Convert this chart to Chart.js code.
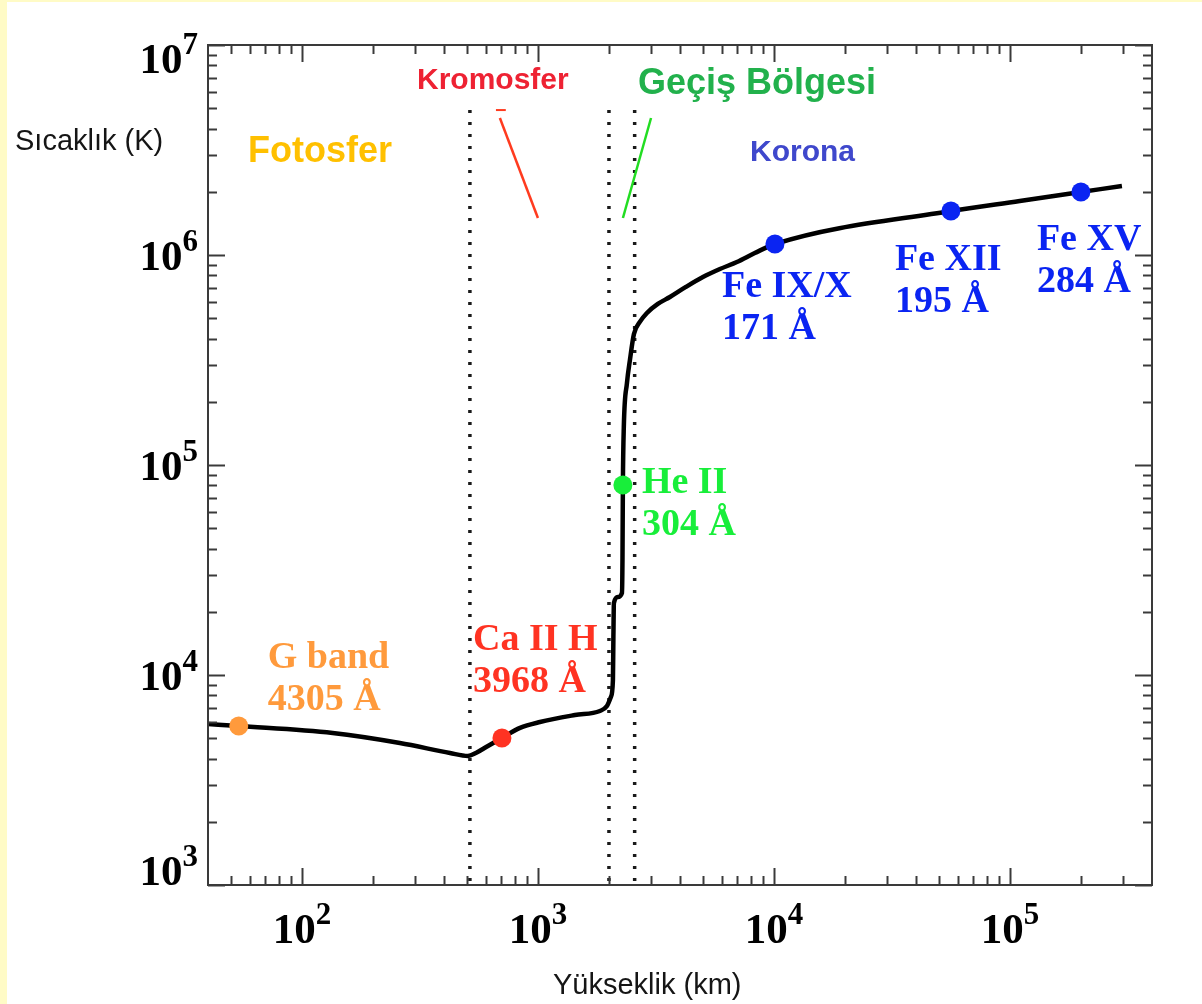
<!DOCTYPE html>
<html lang="tr">
<head>
<meta charset="UTF-8">
<title>Güneş atmosferi sıcaklık profili</title>
<script src="https://cdn.jsdelivr.net/npm/chart.js"></script>
<style>
  html, body { margin: 0; padding: 0; background: #fff; }
  canvas { display: block; }
</style>
</head>
<body>
<canvas id="tempChart" width="1202" height="1004"></canvas>
<script>
// temperature profile (height in km, temperature in K)
const heightKm = [40, 54, 135, 260, 424, 505, 546, 614, 704, 840, 1020, 1435, 1831, 1961, 2038, 2079, 2088, 2099,
  2183, 2270, 2282, 2291, 2312, 2384, 2454, 2552, 2704, 2897, 3222, 3625, 4236, 5003, 5904, 6970, 8298,
  10100, 56230, 110100, 199900, 298300];
const tempK = [5845, 5716, 5294, 4745, 4253, 4115, 4253, 4592, 5012, 5600, 5973, 6450, 6740, 7110, 7860, 9460, 14680, 22030,
  23500, 24550, 35280, 80320, 151700, 245700, 316200, 420500, 479900, 529500, 584600, 631000, 704700, 785500, 857800, 926300, 1022000,
  1128000, 1620000, 1807000, 1995000, 2132000];

// observed spectral lines
const lineNames = ['G band', 'Ca II H', 'He II', 'Fe IX/X', 'Fe XII', 'Fe XV'];
const lineWaves = ['4305 Å', '3968 Å', '304 Å', '171 Å', '195 Å', '284 Å'];
const lineHeightKm = [54, 704, 2291, 10100, 56230, 199900];
const lineTempK = [5716, 5012, 80320, 1128000, 1620000, 1995000];

// layer boundaries (dotted verticals)
const boundaryKm = [515, 2000, 2570];
const boundaryTopK = 4.9e6;

// short pointer strokes under the region names
const kromPointerKm = [690, 1000];
const kromPointerK = [4.49e6, 1.5e6];
const kromDashKm = [664, 731];
const kromDashK = [4.9e6, 4.9e6];
const gecisPointerKm = [3015, 2292];
const gecisPointerK = [4.49e6, 1.5e6];

const regionNames = ['Fotosfer', 'Kromosfer', 'Geçiş Bölgesi', 'Korona'];

// axis ticks
const xMajor = [1e2, 1e3, 1e4, 1e5];
const yMajor = [1e3, 1e4, 1e5, 1e6, 1e7];

const lineColors = ['#ff9a3c', '#ff3322', '#18ee3a', '#0a24f2', '#0a24f2', '#0a24f2'];
const regionStyle = [
  { color: '#ffc000', font: 'bold 36px "Liberation Sans", Arial, sans-serif', x: 248, y: 162 },
  { color: '#ee2233', font: 'bold 30px "Liberation Sans", Arial, sans-serif', x: 417, y: 89 },
  { color: '#22b14c', font: 'bold 36px "Liberation Sans", Arial, sans-serif', x: 638, y: 94 },
  { color: '#3f48cc', font: 'bold 30px "Liberation Sans", Arial, sans-serif', x: 750, y: 161 }
];
// label offsets from each marker (px): left edge, first baseline
const labelOffsets = [[29, -58], [-29, -88], [19, 8], [-53, 53], [-56, 59], [-44, 58]];

const pts = (xs, ys) => xs.map((v, i) => ({ x: v, y: ys[i] }));

const datasets = [];
lineNames.forEach((name, i) => {
  datasets.push({
    type: 'scatter',
    label: name,
    data: [{ x: lineHeightKm[i], y: lineTempK[i] }],
    pointRadius: 9.5,
    pointBackgroundColor: lineColors[i],
    pointBorderWidth: 0
  });
});
datasets.push({
  label: 'Sıcaklık',
  data: pts(heightKm, tempK),
  borderColor: '#000',
  borderWidth: 4.5,
  pointRadius: 0,
  cubicInterpolationMode: 'monotone',
  borderJoinStyle: 'round'
});
datasets.push({ data: pts(kromPointerKm, kromPointerK), borderColor: '#ff3b1f', borderWidth: 2.5, pointRadius: 0 });
datasets.push({ data: pts(kromDashKm, kromDashK), borderColor: '#ff3b1f', borderWidth: 2, pointRadius: 0 });
datasets.push({ data: pts(gecisPointerKm, gecisPointerK), borderColor: '#22dd22', borderWidth: 2.5, pointRadius: 0 });
boundaryKm.forEach(b => {
  datasets.push({
    data: [{ x: b, y: boundaryTopK }, { x: b, y: 1e3 }],
    borderColor: '#1a1a1a',
    borderWidth: 3.5,
    borderDash: [3, 9],
    pointRadius: 0
  });
});

const SERIF = '"Liberation Serif", "Times New Roman", serif';

function drawPower(c, exp, xPos, baseY, align) {
  c.font = 'bold 43px ' + SERIF;
  const wBase = c.measureText('10').width;
  c.font = 'bold 31px ' + SERIF;
  const wExp = c.measureText(String(exp)).width;
  let left = align === 'right' ? xPos - wBase - wExp : xPos - (wBase + wExp) / 2;
  c.textAlign = 'left';
  c.textBaseline = 'alphabetic';
  c.font = 'bold 43px ' + SERIF;
  c.fillText('10', left, baseY);
  c.font = 'bold 31px ' + SERIF;
  c.fillText(String(exp), left + wBase, baseY - 19);
}

const frame = {
  id: 'frame',
  beforeDraw(chart) {
    const c = chart.ctx;
    c.save();
    c.fillStyle = '#fff';
    c.fillRect(0, 0, chart.width, chart.height);
    c.fillStyle = '#fffbc6';
    c.fillRect(0, 0, 7, chart.height);
    c.fillRect(0, 0, chart.width, 2);
    c.restore();
  },
  afterDraw(chart) {
    const { ctx: c, chartArea: a, scales: { x, y } } = chart;
    c.save();
    c.strokeStyle = '#3a3a3a';
    c.lineWidth = 2;
    c.strokeRect(a.left, a.top, a.right - a.left, a.bottom - a.top);

    const seg = (x1, y1, x2, y2) => { c.beginPath(); c.moveTo(x1, y1); c.lineTo(x2, y2); c.stroke(); };
    // x ticks (bottom and top, pointing inward)
    for (let e = 1; e <= 5; e++) {
      for (let m = 1; m <= 9; m++) {
        const v = m * Math.pow(10, e);
        if (v <= x.min || v >= x.max) continue;
        const px = Math.round(x.getPixelForValue(v)) + 0.5;
        const len = m === 1 ? 17 : 9;
        seg(px, a.bottom, px, a.bottom - len);
        seg(px, a.top, px, a.top + len);
      }
    }
    // y ticks (left and right)
    for (let e = 3; e <= 7; e++) {
      for (let m = 1; m <= 9; m++) {
        const v = m * Math.pow(10, e);
        if (v < y.min || v > y.max) continue;
        const py = Math.round(y.getPixelForValue(v)) + 0.5;
        const len = m === 1 ? 17 : 9;
        seg(a.left, py, a.left + len, py);
        seg(a.right, py, a.right - len, py);
      }
    }

    // tick labels
    c.fillStyle = '#000';
    xMajor.forEach(v => {
      drawPower(c, Math.round(Math.log10(v)), x.getPixelForValue(v), a.bottom + 58, 'center');
    });
    yMajor.forEach(v => {
      let mid = y.getPixelForValue(v);
      mid = Math.max(mid, a.top + 13);
      mid = Math.min(mid, a.bottom - 15);
      drawPower(c, Math.round(Math.log10(v)), a.left - 10, mid + 15, 'right');
    });

    // axis titles
    c.fillStyle = '#151515';
    c.font = '29px "Liberation Sans", Arial, sans-serif';
    c.textAlign = 'left';
    c.fillText('Sıcaklık (K)', 15, 150);
    c.fillText('Yükseklik (km)', 553, 994);

    // region names
    regionNames.forEach((name, i) => {
      const s = regionStyle[i];
      c.fillStyle = s.color;
      c.font = s.font;
      c.fillText(name, s.x, s.y);
    });

    // spectral line labels next to their markers
    c.font = 'bold 38px ' + SERIF;
    lineNames.forEach((name, i) => {
      const px = x.getPixelForValue(lineHeightKm[i]) + labelOffsets[i][0];
      const py = y.getPixelForValue(lineTempK[i]) + labelOffsets[i][1];
      c.fillStyle = lineColors[i];
      c.fillText(name, px, py);
      c.fillText(lineWaves[i], px, py + 42);
    });
    c.restore();
  }
};

new Chart(document.getElementById('tempChart').getContext('2d'), {
  type: 'line',
  data: { datasets: datasets },
  options: {
    responsive: false,
    animation: false,
    layout: { padding: { left: 208, top: 45, right: 50, bottom: 119 } },
    plugins: { legend: { display: false }, tooltip: { enabled: false } },
    scales: {
      x: { type: 'logarithmic', min: 40, max: 4e5, display: false },
      y: { type: 'logarithmic', min: 1e3, max: 1e7, display: false }
    }
  },
  plugins: [frame]
});
</script>
</body>
</html>
